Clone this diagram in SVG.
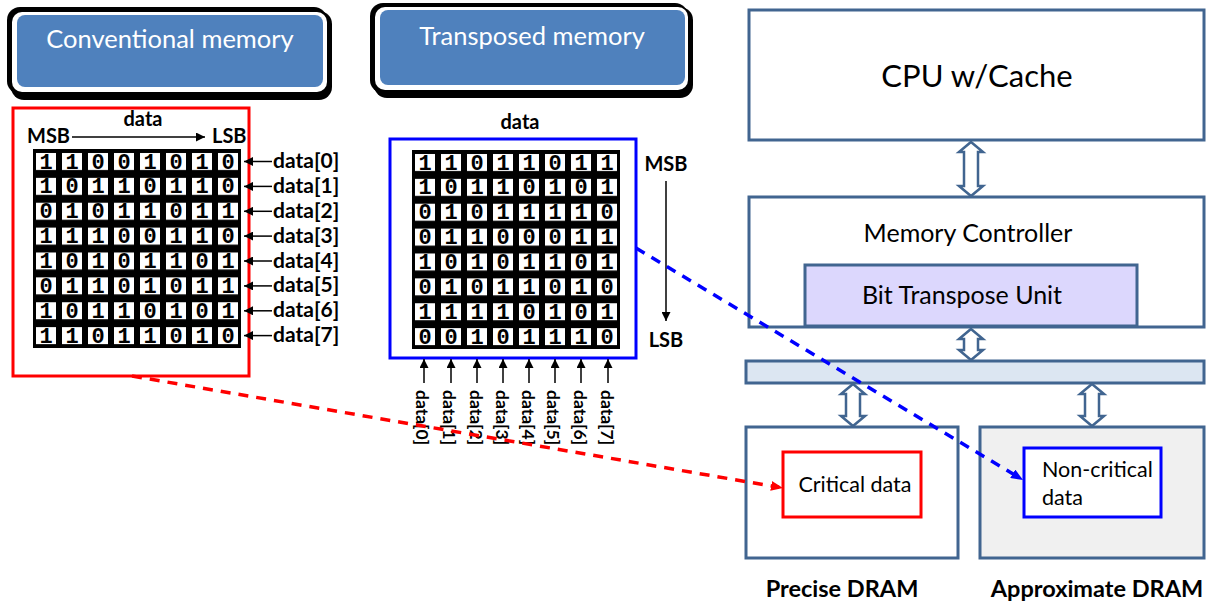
<svg xmlns="http://www.w3.org/2000/svg" width="1212" height="604" viewBox="0 0 1212 604">
  <style>
    .sans { font-family: Lato, "Open Sans", "Liberation Sans", sans-serif; }
    .bold { font-family: Lato, "Open Sans", "Liberation Sans", sans-serif; font-weight: bold; }
    .bits { font-family: "Liberation Mono", "DejaVu Sans Mono", monospace; font-weight: bold; font-size: 22px; fill: #000; text-anchor: middle; }
    .hw { fill: #fff; stroke: #416590; stroke-width: 3; }
    .dbl { fill: #fff; stroke: #416590; stroke-width: 2.5; stroke-linejoin: miter; }
    .thin { stroke: #000; stroke-width: 1.5; fill: none; }
    .dash { fill: none; stroke-width: 3.5; stroke-dasharray: 10 8; }
  </style>
  <defs>
    <pattern id="cells" patternUnits="userSpaceOnUse" width="26" height="24.875">
      <rect x="3" y="4" width="20" height="17" fill="#fff"/>
    </pattern>
    <marker id="ahBlack" viewBox="0 0 10 10" refX="10" refY="5" markerWidth="9" markerHeight="9" markerUnits="userSpaceOnUse" orient="auto">
      <path d="M0,0 L10,5 L0,10 z" fill="#000"/>
    </marker>
    <marker id="ahRed" viewBox="0 0 12 10" refX="8" refY="5" markerWidth="12" markerHeight="10" markerUnits="userSpaceOnUse" orient="auto">
      <path d="M0,0 L12,5 L0,10 z" fill="#ff0000"/>
    </marker>
    <marker id="ahBlue" viewBox="0 0 12 10" refX="8" refY="5" markerWidth="12" markerHeight="10" markerUnits="userSpaceOnUse" orient="auto">
      <path d="M0,0 L12,5 L0,10 z" fill="#0000ff"/>
    </marker>
  </defs>

  <rect width="1212" height="604" fill="#fff"/>

  <!-- title buttons -->
  <g id="btn-conventional">
    <rect x="11" y="11" width="321" height="89" rx="13" fill="#000"/>
    <rect x="7" y="7" width="320" height="87" rx="13" fill="#000"/>
    <rect x="12" y="12" width="315" height="80" rx="10" fill="#fff"/>
    <rect x="17" y="15" width="306" height="72" rx="8" fill="#4f81bd"/>
    <text class="sans" x="170" y="48" font-size="25.5" fill="#fff" text-anchor="middle">Conventional memory</text>
  </g>
  <g id="btn-transposed">
    <rect x="374" y="7" width="319" height="91" rx="13" fill="#000"/>
    <rect x="370" y="3" width="318" height="90" rx="13" fill="#000"/>
    <rect x="375" y="7" width="313" height="83" rx="10" fill="#fff"/>
    <rect x="380" y="10" width="305" height="75" rx="8" fill="#4f81bd"/>
    <text class="sans" x="532" y="45" font-size="25.5" fill="#fff" text-anchor="middle">Transposed memory</text>
  </g>

  <!-- conventional layout: one word per row -->
  <g id="conventional-array">
    <rect x="13" y="108" width="236" height="268" fill="none" stroke="#ff0000" stroke-width="3"/>
    <text class="bold" x="143" y="126" font-size="20" text-anchor="middle">data</text>
    <text class="bold" x="27" y="143" font-size="20">MSB</text>
    <text class="bold" x="212" y="143" font-size="20">LSB</text>
    <line class="thin" x1="72" y1="137" x2="205" y2="137" marker-end="url(#ahBlack)"/>
    <g transform="translate(33,149)">
      <rect width="208" height="199" fill="#000"/>
      <rect width="208" height="199" fill="url(#cells)"/>
      <g class="bits">
        <text x="13 39 65 91 117 143 169 195" y="19.5">11001010</text>
        <text x="13 39 65 91 117 143 169 195" y="44.4">10110110</text>
        <text x="13 39 65 91 117 143 169 195" y="69.3">01011011</text>
        <text x="13 39 65 91 117 143 169 195" y="94.1">11100110</text>
        <text x="13 39 65 91 117 143 169 195" y="119">10101101</text>
        <text x="13 39 65 91 117 143 169 195" y="143.9">01101011</text>
        <text x="13 39 65 91 117 143 169 195" y="168.8">10110101</text>
        <text x="13 39 65 91 117 143 169 195" y="193.6">11011010</text>
      </g>
    </g>
    <g class="bold" font-size="21">
      <text x="273" y="168">data[0]</text>
      <text x="273" y="193">data[1]</text>
      <text x="273" y="218">data[2]</text>
      <text x="273" y="243">data[3]</text>
      <text x="273" y="268">data[4]</text>
      <text x="273" y="292">data[5]</text>
      <text x="273" y="317">data[6]</text>
      <text x="273" y="342">data[7]</text>
    </g>
  </g>

  <!-- transposed layout: one word per column -->
  <g id="transposed-array">
    <rect x="390" y="139" width="246" height="219" fill="none" stroke="#0000ff" stroke-width="3"/>
    <text class="bold" x="520" y="129" font-size="20" text-anchor="middle">data</text>
    <text class="bold" x="666" y="171" font-size="20" text-anchor="middle">MSB</text>
    <text class="bold" x="666" y="347" font-size="20" text-anchor="middle">LSB</text>
    <line class="thin" x1="666" y1="181" x2="666" y2="321" marker-end="url(#ahBlack)"/>
    <g transform="translate(412,150)">
      <rect width="208" height="199" fill="#000"/>
      <rect width="208" height="199" fill="url(#cells)"/>
      <g class="bits">
        <text x="13 39 65 91 117 143 169 195" y="19.5">11011011</text>
        <text x="13 39 65 91 117 143 169 195" y="44.4">10110101</text>
        <text x="13 39 65 91 117 143 169 195" y="69.3">01011110</text>
        <text x="13 39 65 91 117 143 169 195" y="94.1">01100011</text>
        <text x="13 39 65 91 117 143 169 195" y="119">10101101</text>
        <text x="13 39 65 91 117 143 169 195" y="143.9">01011010</text>
        <text x="13 39 65 91 117 143 169 195" y="168.8">11110101</text>
        <text x="13 39 65 91 117 143 169 195" y="193.6">00101110</text>
      </g>
    </g>
    <g class="bold" font-size="17.5" dominant-baseline="central">
      <text transform="translate(422,390) rotate(90)">data[0]</text>
      <text transform="translate(449,390) rotate(90)">data[1]</text>
      <text transform="translate(476,390) rotate(90)">data[2]</text>
      <text transform="translate(502,390) rotate(90)">data[3]</text>
      <text transform="translate(528,390) rotate(90)">data[4]</text>
      <text transform="translate(553,390) rotate(90)">data[5]</text>
      <text transform="translate(580,390) rotate(90)">data[6]</text>
      <text transform="translate(607,390) rotate(90)">data[7]</text>
    </g>
  </g>

  <!-- system blocks -->
  <g id="cpu">
    <rect class="hw" x="749" y="10" width="455" height="130"/>
    <text class="sans" x="977" y="87" font-size="31" text-anchor="middle">CPU w/Cache</text>
  </g>
  <g id="memory-controller">
    <rect class="hw" x="749" y="197" width="455" height="130"/>
    <text class="sans" x="968" y="242" font-size="25" text-anchor="middle">Memory Controller</text>
  </g>
  <g id="bit-transpose-unit">
    <rect x="805" y="265" width="332" height="61" fill="#dcd7fd" stroke="#416590" stroke-width="3"/>
    <text class="sans" x="962" y="304" font-size="25" text-anchor="middle">Bit Transpose Unit</text>
  </g>
  <g id="bus">
    <rect x="746" y="361" width="458" height="22" fill="#dce6f2" stroke="#416590" stroke-width="3"/>
  </g>
  <g id="precise-dram">
    <rect class="hw" x="746" y="427" width="212" height="131"/>
    <text class="bold" x="842" y="597" font-size="23.5" text-anchor="middle">Precise DRAM</text>
  </g>
  <g id="approximate-dram">
    <rect x="980" y="427" width="224" height="131" fill="#f0f0f0" stroke="#416590" stroke-width="3"/>
    <text class="bold" x="1097" y="597" font-size="23.5" text-anchor="middle">Approximate DRAM</text>
  </g>
  <g id="critical-data">
    <rect x="783" y="452" width="138" height="65" fill="#fff" stroke="#ff0000" stroke-width="3"/>
    <text class="sans" x="855" y="492" font-size="21.5" text-anchor="middle">Critical data</text>
  </g>
  <g id="non-critical-data">
    <rect x="1024" y="448" width="137" height="69" fill="#fff" stroke="#0000ff" stroke-width="3"/>
    <text class="sans" x="1042" y="477" font-size="21.5">Non-critical</text>
    <text class="sans" x="1042" y="505" font-size="21.5">data</text>
  </g>

  <!-- connectors -->
  <g id="connectors">
    <!-- row labels pointing into the conventional array -->
    <g class="thin" marker-end="url(#ahBlack)">
      <line x1="272" y1="161.5" x2="244" y2="161.5"/>
      <line x1="272" y1="186.4" x2="244" y2="186.4"/>
      <line x1="272" y1="211.3" x2="244" y2="211.3"/>
      <line x1="272" y1="236.1" x2="244" y2="236.1"/>
      <line x1="272" y1="261" x2="244" y2="261"/>
      <line x1="272" y1="285.9" x2="244" y2="285.9"/>
      <line x1="272" y1="310.8" x2="244" y2="310.8"/>
      <line x1="272" y1="335.6" x2="244" y2="335.6"/>
    </g>
    <!-- column labels pointing into the transposed array -->
    <g class="thin" marker-end="url(#ahBlack)">
      <line x1="424" y1="383" x2="424" y2="359"/>
      <line x1="451" y1="383" x2="451" y2="359"/>
      <line x1="477" y1="383" x2="477" y2="359"/>
      <line x1="503" y1="383" x2="503" y2="359"/>
      <line x1="529" y1="383" x2="529" y2="359"/>
      <line x1="555" y1="383" x2="555" y2="359"/>
      <line x1="581" y1="383" x2="581" y2="359"/>
      <line x1="608" y1="383" x2="608" y2="359"/>
    </g>
    <!-- double-headed block arrows between blocks -->
    <path class="dbl" d="M971,142 L983,152 L978,152 L978,186 L983,186 L971,196 L959,186 L964,186 L964,152 L959,152 Z"/>
    <path class="dbl" d="M971,329 L983,339 L978,339 L978,350 L983,350 L971,360 L959,350 L964,350 L964,339 L959,339 Z"/>
    <path class="dbl" d="M853,384 L865,394 L860,394 L860,416 L865,416 L853,426 L841,416 L846,416 L846,394 L841,394 Z"/>
    <path class="dbl" d="M1092,384 L1104,394 L1099,394 L1099,416 L1104,416 L1092,426 L1080,416 L1085,416 L1085,394 L1080,394 Z"/>
    <!-- data placement -->
    <line class="dash" x1="132" y1="376" x2="779" y2="487.3" stroke="#ff0000" marker-end="url(#ahRed)"/>
    <line class="dash" x1="636" y1="248" x2="1019.6" y2="477.9" stroke="#0000ff" marker-end="url(#ahBlue)"/>
  </g>
</svg>
